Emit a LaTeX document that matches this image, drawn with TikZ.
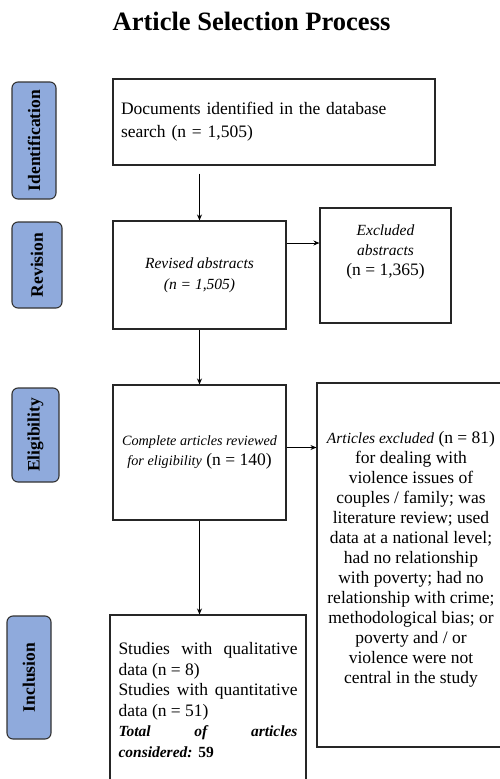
\documentclass[tikz,border=0pt]{standalone}
\usepackage{fontspec}
\setmainfont{Liberation Serif}
\usetikzlibrary{arrows.meta}
\definecolor{stagefill}{HTML}{8FAADC}
\newcommand{\itx}[1]{{\fontsize{15.5}{20}\selectfont\itshape #1}}
\newcommand{\itsm}[1]{{\fontsize{14.2}{20}\selectfont\itshape #1}}
\tikzset{
  box/.style={draw=black!85, line width=1.1pt, inner sep=0pt},
  stage/.style={draw=black!80, fill=stagefill, line width=1.1pt, rounded corners=6pt,
    rotate=90, inner sep=0pt, font=\fontsize{17.5}{20}\selectfont\bfseries},
  arr/.style={-{Stealth[length=6pt,width=5pt]}, line width=0.9pt}
}
\begin{document}
\begin{tikzpicture}[x=1pt,y=-1pt]
      \useasboundingbox (0,0) rectangle (499,779);
      \node[anchor=base, font=\fontsize{26.5}{30}\selectfont\bfseries] (title) at (251.5,30) {Article Selection Process};
      \node[stage, minimum width=117pt, minimum height=44pt] (ident) at (34,140.5) {Identification};
      \node[stage, minimum width=86pt, minimum height=50pt] (revis) at (37,265) {Revision};
      \node[stage, minimum width=94pt, minimum height=47pt] (elig) at (35.5,435) {Eligibility};
      \node[stage, minimum width=123pt, minimum height=44pt] (incl) at (29,677.5) {Inclusion};
      \node[box, minimum width=322pt, minimum height=86pt, text width=306pt, align=left,
        font=\fontsize{17.5}{23}\selectfont] (docs) at (274,122)
        {Documents identified in the database\\search (n = 1,505)};
      \node[box, minimum width=173pt, minimum height=108pt, align=center,
        font=\fontsize{17.5}{21}\selectfont] (revd) at (199.5,275)
        {\itx{Revised abstracts}\\\itx{(n = 1,505)}};
      \node[box, minimum width=131pt, minimum height=115pt, align=center,
        font=\fontsize{17.5}{20}\selectfont] (exabs) at (385.5,265.5)
        {\itx{Excluded}\\\itx{abstracts}\\(n = 1,365)\\[10pt]\mbox{}};
      \node[box, minimum width=173pt, minimum height=135pt, align=center,
        font=\fontsize{17.5}{20}\selectfont] (compl) at (199.5,452.5)
        {\itsm{Complete articles reviewed}\\\itsm{for eligibility} (n = 140)};
      \node[box, minimum width=188pt, minimum height=364pt, align=center,
        font=\fontsize{17.5}{20}\selectfont] (artex) at (411,565)
        {\itx{Articles excluded} (n = 81)\\for dealing with\\violence issues of\\couples / family; was\\literature review; used\\data at a national level;\\had no relationship\\with poverty; had no\\relationship with crime;\\methodological bias; or\\poverty and / or\\violence were not\\central in the study\\[-4pt]\mbox{}};
      \node[box, minimum width=196pt, minimum height=170pt, text width=179pt, align=justify,
        font=\fontsize{17.5}{20.5}\selectfont] (stud) at (208,700)
        {Studies with qualitative\linebreak data (n = 8)\\Studies with quantitative\linebreak data (n = 51)\\\textbf{\itx{Total of articles}}\linebreak \textbf{\itx{considered:}} {\fontsize{15.5}{20}\selectfont\textbf{59}}};
      \coordinate (d1) at (revd.north |- docs.south);
      \coordinate (r1) at ([yshift=32pt]revd.east);
      \coordinate (c1) at ([yshift=5pt]compl.east);
      \draw[arr] ([yshift=-8pt]d1) -- (revd.north);
      \draw[arr] (r1) -- (r1 -| exabs.west);
      \draw[arr] (revd.south) -- (compl.north);
      \draw[arr] (c1) -- (c1 -| artex.west);
      \draw[arr] (compl.south) -- (compl.south |- stud.north);
    \end{tikzpicture}
\end{document}
